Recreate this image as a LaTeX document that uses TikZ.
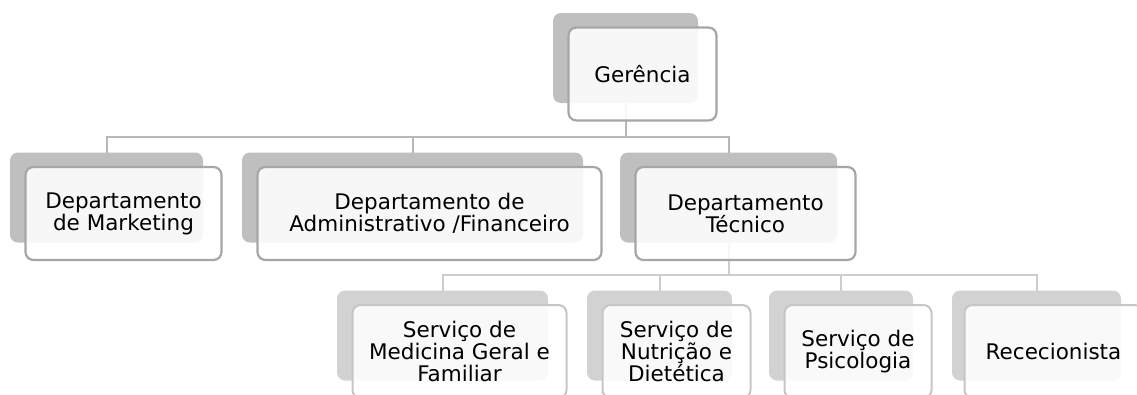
\documentclass[tikz,border=0pt]{standalone}
\usepackage{fontspec}
\setmainfont{DejaVu Sans}
\usetikzlibrary{positioning,calc}
\definecolor{shadetop}{RGB}{191, 191, 191}
\definecolor{shadelow}{RGB}{210, 210, 210}
\definecolor{edgetop}{RGB}{166, 166, 166}
\definecolor{edgelow}{RGB}{198, 198, 198}
\definecolor{linktop}{RGB}{184, 184, 184}
\definecolor{linklow}{RGB}{205, 205, 205}

\begin{document}
\begin{tikzpicture}[
    x=1pt, y=-1pt,
    back/.style={rectangle, rounded corners=8pt, inner sep=0pt, outer sep=0pt,
                 minimum height=90pt},
    front/.style={rectangle, rounded corners=8pt, inner sep=0pt, outer sep=0pt,
                  fill=white, fill opacity=0.88, text opacity=1, align=center,
                  minimum height=93pt, font=\fontsize{21.5}{22}\selectfont},
    top/.style={fill=shadetop},
    low/.style={fill=shadelow},
    frtop/.style={front, draw=edgetop, line width=2.2pt},
    frlow/.style={front, draw=edgelow, line width=2pt},
    link/.style={line width=2pt},
  ]
    \useasboundingbox (0,0) rectangle (1137,394);

    % Back boxes
    \node[back, top, minimum width=145pt] (gerB) at (625.5,58) {};
    \node[back, top, minimum width=193pt] (mktB) at (106.5,197.5) {};
    \node[back, top, minimum width=341pt] (admB) at (412.5,197.5) {};
    \node[back, top, minimum width=217pt] (tecB) at (728.5,197.5) {};
    \node[back, low, minimum width=211pt] (medB) at (442.5,335.5) {};
    \node[back, low, minimum width=145pt] (nutB) at (659.5,335.5) {};
    \node[back, low, minimum width=144pt] (psiB) at (841,335.5) {};
    \node[back, low, minimum width=169pt] (recB) at (1036.5,335.5) {};

    % Connectors
    \coordinate (bar1) at (0,137);
    \coordinate (bar2) at (0,275);
    \foreach \c in {mktB,admB,tecB}
      \draw[link, linktop] (gerB.south) -- (gerB.south |- bar1) -| (\c.north);
    \foreach \c in {medB,nutB,psiB,recB}
      \draw[link, linklow] (tecB.south) -- (tecB.south |- bar2) -| (\c.north);

    % Front boxes
    \node[frtop, minimum width=148pt] (ger) at ($(gerB)+(17,16)$) {Gerência};
    \node[frtop, minimum width=196pt] (mkt) at ($(mktB)+(17,16)$) {Departamento\\de Marketing};
    \node[frtop, minimum width=344pt] (adm) at ($(admB)+(17,16)$) {Departamento de\\Administrativo /Financeiro};
    \node[frtop, minimum width=220pt] (tec) at ($(tecB)+(17,16)$) {Departamento\\Técnico};
    \node[frlow, minimum width=214pt] (med) at ($(medB)+(17,16)$) {Serviço de\\Medicina Geral e\\Familiar};
    \node[frlow, minimum width=148pt] (nut) at ($(nutB)+(17,16)$) {Serviço de\\Nutrição e\\Dietética};
    \node[frlow, minimum width=147pt] (psi) at ($(psiB)+(17,16)$) {Serviço de\\Psicologia};
    \node[frlow, minimum width=178pt] (rec) at ($(recB)+(17,16)$) {Rececionista};
\end{tikzpicture}
\end{document}
